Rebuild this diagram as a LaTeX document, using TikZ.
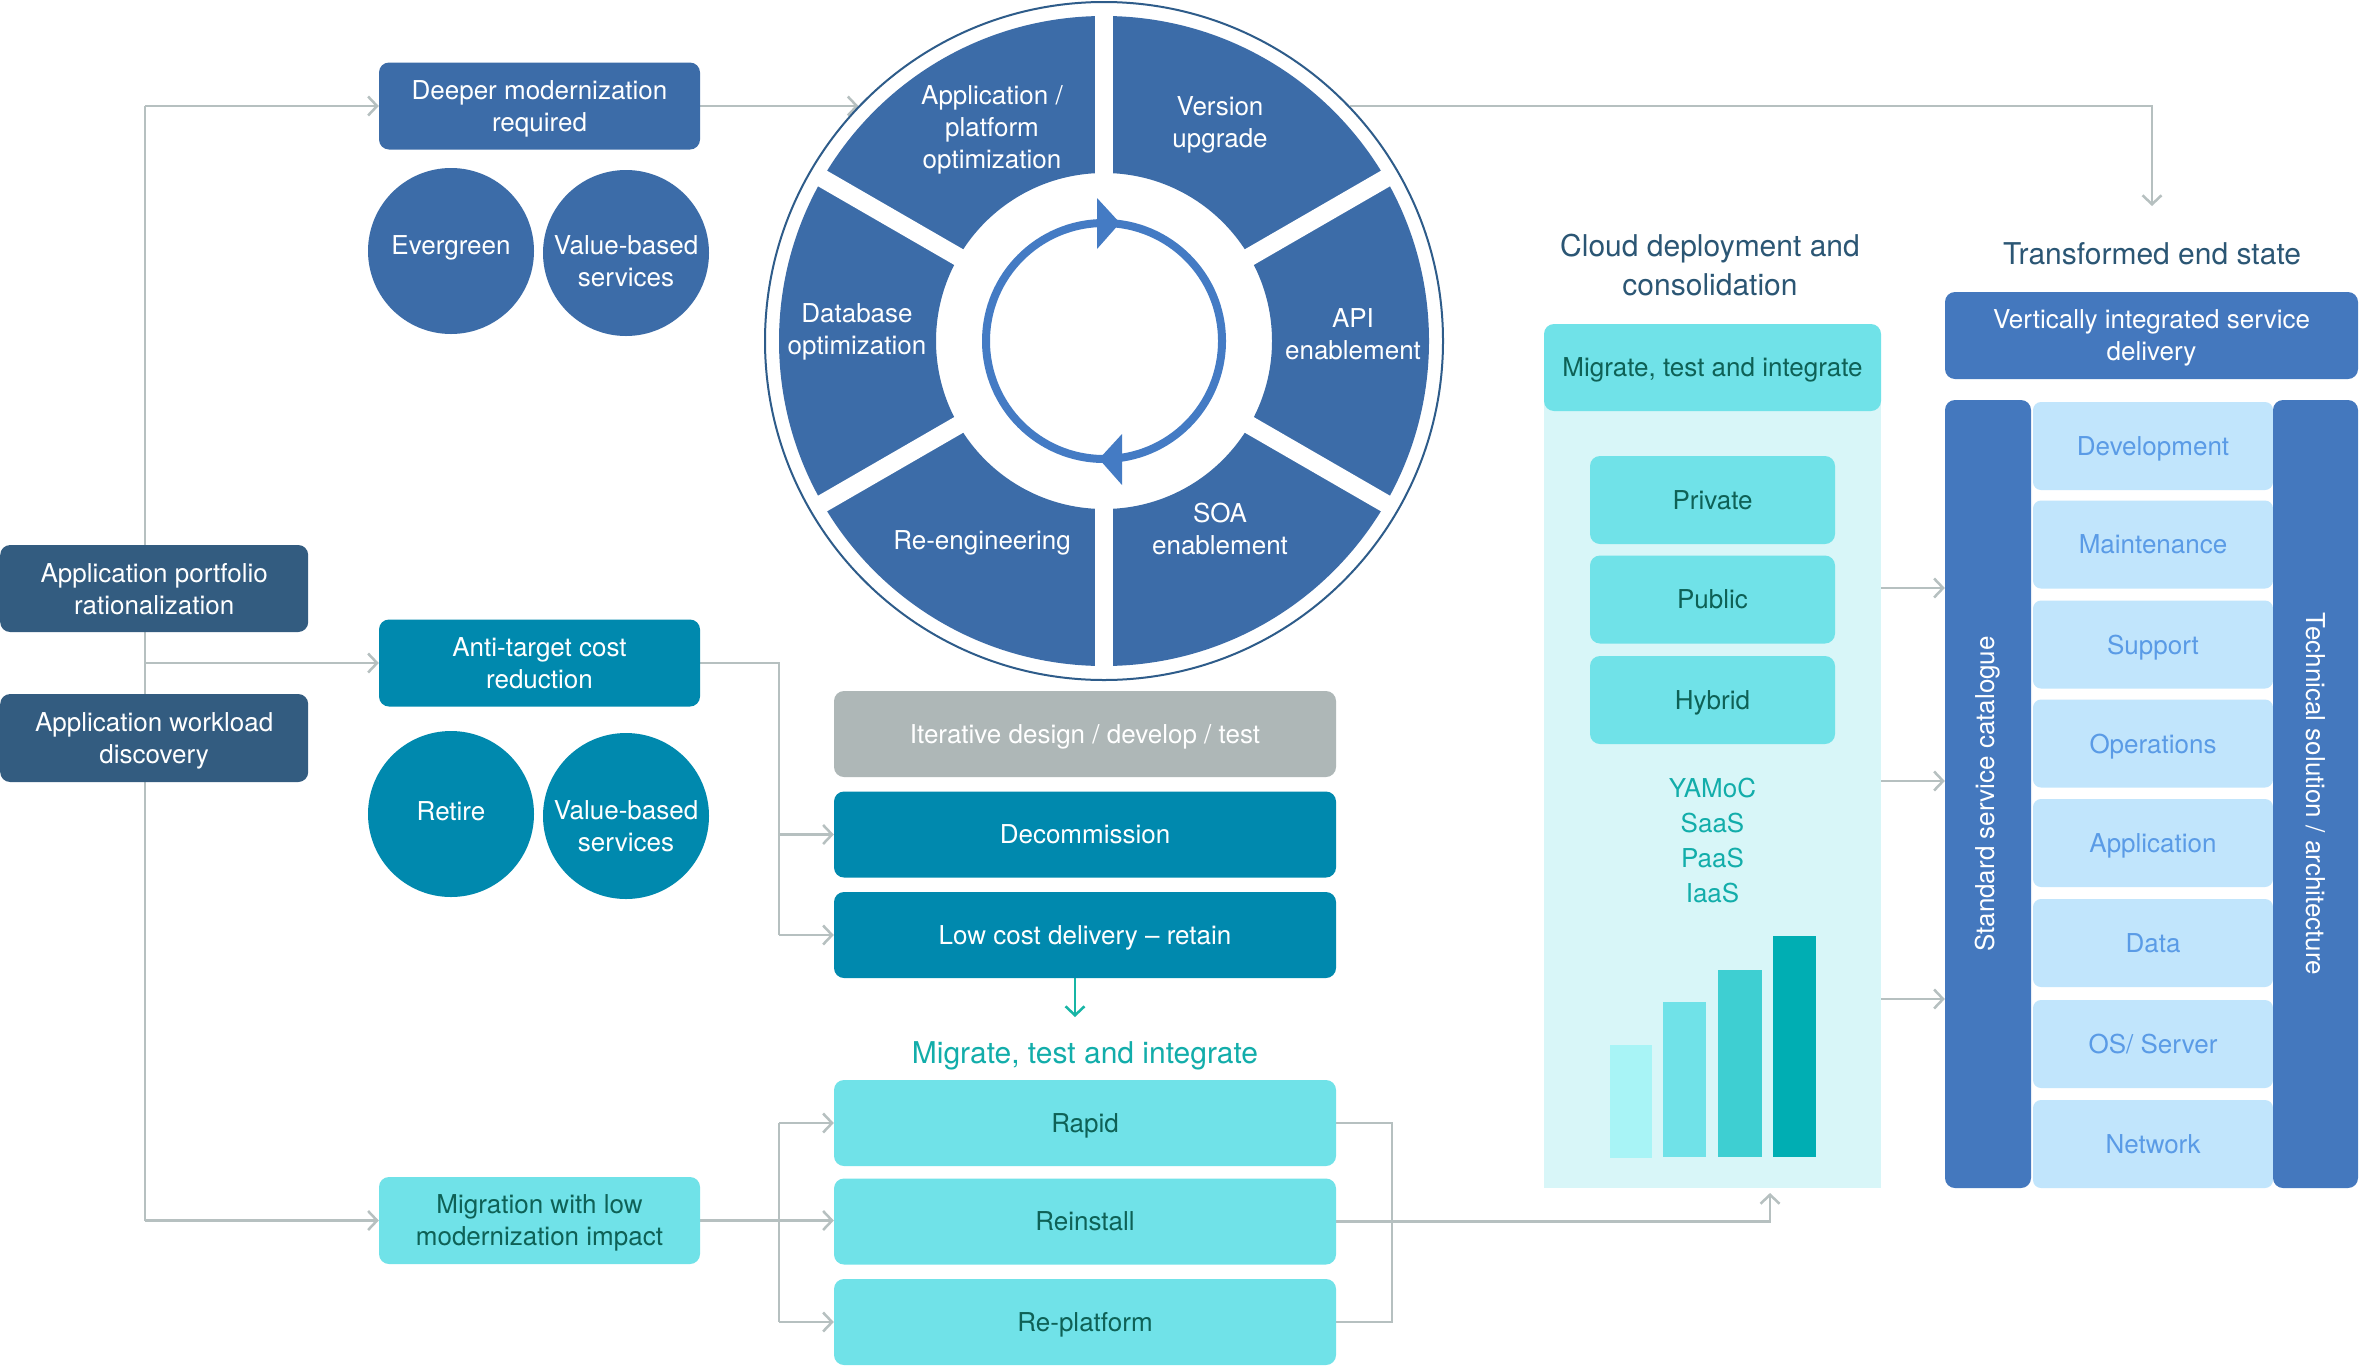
\documentclass[tikz,border=0pt]{standalone}
\usepackage{fontspec}
\setmainfont{TeX Gyre Heros}
\usetikzlibrary{arrows.meta,calc,backgrounds}

\definecolor{slate}{HTML}{335C80}
\definecolor{mblue}{HTML}{3C6CA8}
\definecolor{ring}{HTML}{2E5C8A}
\definecolor{arrowblue}{HTML}{447BC4}
\definecolor{dteal}{HTML}{0089AE}
\definecolor{lcyan}{HTML}{70E2E8}
\definecolor{cyantext}{HTML}{0E6156}
\definecolor{greybox}{HTML}{AEB7B7}
\definecolor{conngray}{HTML}{B6C0C0}
\definecolor{tealtxt}{HTML}{12ADAA}
\definecolor{tealarr}{HTML}{17B5A5}
\definecolor{titletxt}{HTML}{2B5674}
\definecolor{vblue}{HTML}{4478BE}
\definecolor{cellbg}{HTML}{C1E5FC}
\definecolor{celltxt}{HTML}{5A9BE6}
\definecolor{panelbg}{HTML}{D8F6F8}
\definecolor{barone}{HTML}{A8F4F6}
\definecolor{barthree}{HTML}{3ECFD2}
\definecolor{barfour}{HTML}{00AEB3}

\tikzset{
  txt/.style={font=\fontsize{26}{32}\selectfont, align=center, text depth=0pt},
  box/.style={txt, rounded corners=10pt, inner sep=0pt, text=white},
  wbox/.style={box, minimum width=321pt, minimum height=87pt},
  lbox/.style={box, minimum width=502pt, minimum height=86pt},
  bubble/.style={circle, inner sep=0pt, minimum size=166pt},
  cell/.style={txt, rounded corners=8pt, inner sep=0pt, fill=cellbg, text=celltxt, minimum width=240pt, minimum height=88pt},
  vbar/.style={rounded corners=10pt, fill=vblue, inner sep=0pt, minimum width=86pt, minimum height=788pt},
  chart/.style={inner sep=0pt, anchor=south west},
  title/.style={font=\fontsize{30}{39}\selectfont, align=center, text=titletxt},
  wlabel/.style={txt, text=white},
  connline/.style={draw=conngray, line width=2.5pt},
  arr/.style={connline, -{Straight Barb[length=9pt,width=19pt]}},
}

\begin{document}
\begin{tikzpicture}[x=1pt,y=-1pt]
\useasboundingbox (0,0) rectangle (2360,1366);
\begin{scope}[on background layer]
  \fill[white] (0,0) rectangle (2360,1366);
\end{scope}

% ---------- left column ----------
\node[wbox, fill=mblue] (deeper) at (539.5,106) {Deeper modernization\\required};
\node[bubble, fill=mblue] (evergreen) at (451,251) {};
\node[wlabel] (evergreentext) at (451,245) {Evergreen};
\node[bubble, fill=mblue] (vbone) at (626,253) {};
\node[wlabel] (vbonetext) at (626,261) {Value-based\\services};
\node[wbox, fill=slate, minimum width=308pt, anchor=west] (portfolio) at (0,588.5) {Application portfolio\\rationalization};
\node[wbox, fill=slate, minimum width=308pt, minimum height=88pt, anchor=west] (workload) at (0,738) {Application workload\\discovery};
\node[wbox, fill=dteal] (anti) at (539.5,663) {Anti-target cost\\reduction};
\node[bubble, fill=dteal] (retire) at (451,814) {};
\node[wlabel] (retiretext) at (451,811) {Retire};
\node[bubble, fill=dteal] (vbtwo) at (626,816) {};
\node[wlabel] (vbtwotext) at (626,826) {Value-based\\services};
\node[wbox, fill=lcyan, text=cyantext] (migration) at (539.5,1220.5) {Migration with low\\modernization impact};

% ---------- middle column ----------
\node[lbox, fill=greybox] (iter) at (1085,734) {Iterative design / develop / test};
\node[lbox, fill=dteal] (decomm) at (1085,834.5) {Decommission};
\node[lbox, fill=dteal] (lowcost) at (1085,935) {Low cost delivery – retain};
\node[font=\fontsize{30}{36}\selectfont, text depth=0pt, text=tealtxt] (mti) at (1085,1053) {Migrate, test and integrate};
\node[lbox, fill=lcyan, text=cyantext] (rapid) at (1085,1123) {Rapid};
\node[lbox, fill=lcyan, text=cyantext] (reinstall) at (1085,1221.5) {Reinstall};
\node[lbox, fill=lcyan, text=cyantext] (replat) at (1085,1322) {Re-platform};

% ---------- wheel ----------
\coordinate (c) at (1104,341);
\fill[mblue, even odd rule] (c) circle[radius=325pt] (c) circle[radius=168pt];
\foreach \a in {90,30,-30,-90,-150,150}
  \draw[white, line width=18pt] ([shift={(\a:150pt)}]c) -- ([shift={(\a:335pt)}]c);
\draw[ring, line width=2pt] (c) circle[radius=339pt];
\draw[arrowblue, line width=8pt] (c) circle[radius=118pt];
\fill[arrowblue] (1097,198) -- (1120,223) -- (1097,249) -- cycle;
\fill[arrowblue] (1122,434) -- (1099,459) -- (1122,485) -- cycle;
\node[wlabel] (wapp) at (992,127) {Application /\\platform\\optimization};
\node[wlabel] (wver) at (1220,122) {Version\\upgrade};
\node[wlabel] (wdb) at (857,329) {Database\\optimization};
\node[wlabel] (wapi) at (1353,334) {API\\enablement};
\node[wlabel] (wre) at (982,540) {Re-engineering};
\node[wlabel] (wsoa) at (1220,529) {SOA\\enablement};
\coordinate (wnw) at ([shift={(136.4:339pt)}]c);
\coordinate (wne) at ([shift={(43.6:339pt)}]c);

% ---------- cloud panel ----------
\node[title] (cloudtitle) at (1710,265) {Cloud deployment and\\consolidation};
\node[fill=panelbg, inner sep=0pt, minimum width=337pt, minimum height=854pt, anchor=north west] (panel) at (1544,334) {};
\node[box, fill=lcyan, text=cyantext, minimum width=337pt, minimum height=87pt] (header) at (1712.5,367.5) {Migrate, test and integrate};
\node[box, fill=lcyan, text=cyantext, minimum width=245pt, minimum height=88pt] (private) at (1712.5,500) {Private};
\node[box, fill=lcyan, text=cyantext, minimum width=245pt, minimum height=88pt] (public) at (1712.5,599.5) {Public};
\node[box, fill=lcyan, text=cyantext, minimum width=245pt, minimum height=88pt] (hybrid) at (1712.5,700) {Hybrid};
\node[font=\fontsize{26}{35}\selectfont, align=center, text=tealtxt] (models) at (1712.5,841) {YAMoC\\SaaS\\PaaS\\IaaS};
\node[chart, fill=barone, minimum width=42pt, minimum height=113pt] (bone) at (1610,1158) {};
\node[chart, fill=lcyan, minimum width=43pt, minimum height=155pt] (btwo) at (1663,1157) {};
\node[chart, fill=barthree, minimum width=44pt, minimum height=187pt] (bthree) at (1718,1157) {};
\node[chart, fill=barfour, minimum width=43pt, minimum height=221pt] (bfour) at (1773,1157) {};

% ---------- end state ----------
\node[title] (endtitle) at (2152,254) {Transformed end state};
\node[box, fill=vblue, minimum width=413pt, minimum height=87pt] (vis) at (2151.5,335.5) {Vertically integrated service\\delivery};
\node[cell] (dev) at (2153,446) {Development};
\node[cell] (maint) at (2153,544.5) {Maintenance};
\node[cell] (supp) at (2153,644.5) {Support};
\node[cell] (ops) at (2153,743.5) {Operations};
\node[cell] (appl) at (2153,843) {Application};
\node[cell] (data) at (2153,943) {Data};
\node[cell] (os) at (2153,1044) {OS/ Server};
\node[cell] (net) at (2153,1144) {Network};
\node[vbar] (cat) at (1988,794) {};
\node[vbar, minimum width=85pt] (tech) at (2315.5,794) {};
\node[font=\fontsize{26}{32}\selectfont, rotate=90, text=white] (catlabel) at (cat) {Standard service catalogue};
\node[font=\fontsize{26}{32}\selectfont, rotate=-90, text=white] (techlabel) at (tech) {Technical solution / architecture};

% ---------- connectors ----------
\coordinate (tx) at (145,0);
\coordinate (bx) at (779,0);
\coordinate (rx) at (1392,0);
\coordinate (up) at (1770,1193);
\coordinate (down) at (2152,206);
\coordinate (tealtip) at (1075,1017);
\coordinate (ya) at (0,588);
\coordinate (yb) at (0,781);
\coordinate (yc) at (0,999);

\begin{scope}[on background layer]
\draw[connline] (tx |- deeper.west) -- (tx |- migration.west);
\draw[arr] (tx |- deeper.west) -- (deeper.west);
\draw[arr] (tx |- anti.west) -- (anti.west);
\draw[arr] (tx |- migration.west) -- (migration.west);
\draw[connline] (anti.east) -| (bx |- lowcost.west);
\draw[arr] (bx |- decomm.west) -- (decomm.west);
\draw[arr] (bx |- lowcost.west) -- (lowcost.west);
\draw[connline] (bx |- rapid.west) -- (bx |- replat.west);
\draw[arr] (bx |- rapid.west) -- (rapid.west);
\draw[arr] (migration.east) -- (migration.east -| reinstall.west);
\draw[arr] (bx |- replat.west) -- (replat.west);
\draw[connline] (rapid.east) -| (rx |- replat.east) -- (replat.east);
\draw[arr] (reinstall.east) -| (up);
\draw[arr] (deeper.east) -- (deeper.east -| wnw);
\draw[arr] (wne |- deeper.east) -| (down);
\draw[arr] (panel.east |- ya) -- (cat.west |- ya);
\draw[arr] (panel.east |- yb) -- (cat.west |- yb);
\draw[arr] (panel.east |- yc) -- (cat.west |- yc);
\draw[draw=tealarr, line width=2.5pt, -{Straight Barb[length=9pt,width=19pt]}] (tealtip |- lowcost.south) -- (tealtip);
\end{scope}
\end{tikzpicture}
\end{document}
